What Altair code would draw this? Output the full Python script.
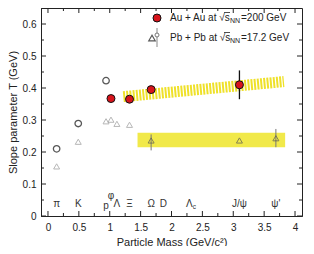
import altair as alt
import pandas as pd

# ---------------- data ----------------
# Au+Au at sqrt(sNN)=200 GeV (filled red circles)
au_mass = [1.02, 1.32, 1.67, 3.10]
au_T = [0.367, 0.365, 0.395, 0.410]
au_err_mass = [3.10]
au_err_lo = [0.365]
au_err_hi = [0.455]

# Pb+Pb at sqrt(sNN)=17.2 GeV, open circles
pbc_mass = [0.14, 0.49, 0.94]
pbc_T = [0.210, 0.289, 0.423]

# Pb+Pb at 17.2 GeV, open triangles
pbt_mass = [0.14, 0.49, 0.94, 1.02, 1.116, 1.32]
pbt_T = [0.155, 0.232, 0.296, 0.301, 0.288, 0.285]
pbt2_mass = [1.67, 3.10, 3.69]
pbt2_T = [0.236, 0.236, 0.243]
pbt_err_mass = [1.67, 3.69]
pbt_err_lo = [0.205, 0.215]
pbt_err_hi = [0.255, 0.272]

# bands
band1_m = [1.22, 3.82]
band1_T = [0.373, 0.420]
band2_m = [1.45, 3.84]
band2_lo = [0.215, 0.215]
band2_hi = [0.260, 0.260]

# particle names along the bottom
part_names = ["π", "K", "p", "φ", "Λ", "Ξ", "Ω", "D", "Λ", "J/ψ", "ψ'"]
part_mass = [0.14, 0.49, 0.94, 1.02, 1.116, 1.32, 1.67, 1.87, 2.29, 3.10, 3.69]
part_T = [0.036, 0.036, 0.030, 0.064, 0.036, 0.036, 0.036, 0.036, 0.036, 0.036, 0.036]

# axis ticks
x_major = [0, 0.5, 1, 1.5, 2, 2.5, 3, 3.5, 4]
x_minor = [0.25, 0.75, 1.25, 1.75, 2.25, 2.75, 3.25, 3.75]
y_major = [0, 0.1, 0.2, 0.3, 0.4, 0.5, 0.6]
y_minor = [0.05, 0.15, 0.25, 0.35, 0.45, 0.55, 0.65]

W, H = 261, 208
FONT = "Liberation Sans"

xs = alt.Scale(domain=[-0.113, 4.113], nice=False, zero=False)
ys = alt.Scale(domain=[0, 0.65], nice=False, zero=False)

x_axis = alt.Axis(values=x_major, format="~g", tickSize=0, grid=False,
                  labelFontSize=10, labelPadding=6, labelColor="#222",
                  titleFontSize=11, titlePadding=4, titleColor="#222",
                  titleFontWeight="normal", domainColor="#222")
y_axis = alt.Axis(values=y_major, labelExpr="datum.value == 0 ? '0' : format(datum.value, '.1f')",
                  tickSize=0, grid=False, labelFontSize=10, labelPadding=5,
                  labelColor="#222", titleFontSize=11, titlePadding=4,
                  titleColor="#222", titleFontWeight="normal", domainColor="#222")

X = lambda f="m": alt.X(f"{f}:Q", scale=xs, axis=x_axis, title="Particle Mass (GeV/c²)")
Y = lambda f="T": alt.Y(f"{f}:Q", scale=ys, axis=y_axis, title="Slope parameter T (GeV)")

df = lambda **k: pd.DataFrame(k)

layers = []

# bands
layers.append(alt.Chart(df(m=band2_m, lo=band2_lo, hi=band2_hi)).mark_area(
    color="#f1e94a", opacity=1).encode(x=X(), y=Y("lo"), y2="hi:Q"))
layers.append(alt.Chart(df(m=band1_m, T=band1_T)).mark_line(
    color="#efe12a", strokeWidth=11, strokeDash=[2, 1.2], strokeCap="butt").encode(x=X(), y=Y()))

# error bars
layers.append(alt.Chart(df(m=pbt_err_mass, lo=pbt_err_lo, hi=pbt_err_hi)).mark_rule(
    color="#777", strokeWidth=1).encode(x=X(), y=Y("lo"), y2="hi:Q"))
layers.append(alt.Chart(df(m=au_err_mass, lo=au_err_lo, hi=au_err_hi)).mark_rule(
    color="#111", strokeWidth=1.3).encode(x=X(), y=Y("lo"), y2="hi:Q"))

# triangles
layers.append(alt.Chart(df(m=pbt_mass, T=pbt_T)).mark_point(
    shape="triangle-up", filled=False, color="#999", size=36, strokeWidth=1).encode(x=X(), y=Y()))
layers.append(alt.Chart(df(m=pbt2_mass, T=pbt2_T)).mark_point(
    shape="triangle-up", filled=False, color="#555", size=36, strokeWidth=1).encode(x=X(), y=Y()))
# open circles
layers.append(alt.Chart(df(m=pbc_mass, T=pbc_T)).mark_point(
    shape="circle", filled=False, color="#111", size=42, strokeWidth=1.3).encode(x=X(), y=Y()))
# red circles
layers.append(alt.Chart(df(m=au_mass, T=au_T)).mark_point(
    shape="circle", filled=True, fill="#d8141c", stroke="#111", strokeWidth=1, size=64, opacity=1).encode(x=X(), y=Y()))

# particle labels
layers.append(alt.Chart(df(m=part_mass, T=part_T, n=part_names)).mark_text(
    font=FONT, fontSize=10, color="#333").encode(x=X(), y=Y(), text="n:N"))
layers.append(alt.Chart(df(m=[2.29], T=[0.029], n=["c"])).mark_text(
    font=FONT, fontSize=6.5, color="#333", dx=5).encode(x=X(), y=Y(), text="n:N"))

# inward ticks
def xticks(vals, ln):
    d = df(m=vals)
    return [alt.Chart(d).mark_rule(color="#222").encode(x=X(), y=alt.value(H), y2=alt.value(H - ln)),
            alt.Chart(d).mark_rule(color="#222").encode(x=X(), y=alt.value(0), y2=alt.value(ln))]

def yticks(vals, ln):
    d = df(T=vals)
    return [alt.Chart(d).mark_rule(color="#222").encode(y=Y(), x=alt.value(0), x2=alt.value(ln)),
            alt.Chart(d).mark_rule(color="#222").encode(y=Y(), x=alt.value(W), x2=alt.value(W - ln))]

layers += xticks(x_major, 5) + xticks(x_minor, 3) + yticks(y_major, 5) + yticks(y_minor, 3)

# legend
one = pd.DataFrame({"a": [0]})
def txt(s, x, y, size=10):
    return alt.Chart(one).mark_text(text=s, font=FONT, fontSize=size, color="#222",
                                    align="left", baseline="middle").encode(
        x=alt.value(x), y=alt.value(y))

LX = 129
layers.append(alt.Chart(one).mark_point(shape="circle", filled=True, fill="#d8141c", stroke="#111",
                                        strokeWidth=1, size=64, opacity=1).encode(
    x=alt.value(116), y=alt.value(10)))
layers.append(alt.Chart(one).mark_rule(color="#888").encode(
    x=alt.value(116), y=alt.value(20), y2=alt.value(39)))
layers.append(alt.Chart(one).mark_point(shape="triangle-up", filled=False, color="#111",
                                        size=42, strokeWidth=1.2).encode(
    x=alt.value(111), y=alt.value(30)))
layers.append(alt.Chart(one).mark_point(shape="circle", filled=True, fill="white", stroke="#777",
                                        size=16, strokeWidth=1, opacity=1).encode(
    x=alt.value(116), y=alt.value(27)))

for row_y, head, tail in [(10, "Au + Au at √s", "=200 GeV"), (30, "Pb + Pb at √s", "=17.2 GeV")]:
    layers.append(txt(head, LX, row_y))
    layers.append(txt("NN", LX + 60, row_y + 3, 7))
    layers.append(txt(tail, LX + 71, row_y))
    layers.append(alt.Chart(one).mark_rule(color="#222", strokeWidth=0.8).encode(
        x=alt.value(LX + 54), x2=alt.value(LX + 60), y=alt.value(row_y - 5.5)))

chart = alt.layer(*layers).properties(
    width=W, height=H,
    padding={"left": 33, "top": 0, "right": 4, "bottom": 30},
    autosize=alt.AutoSizeParams(type="none"),
).configure_view(stroke="#222", strokeWidth=1).configure_axis(
    labelFont=FONT, titleFont=FONT)

chart.save("out.html", embed_options={"renderer": "svg", "actions": False})
